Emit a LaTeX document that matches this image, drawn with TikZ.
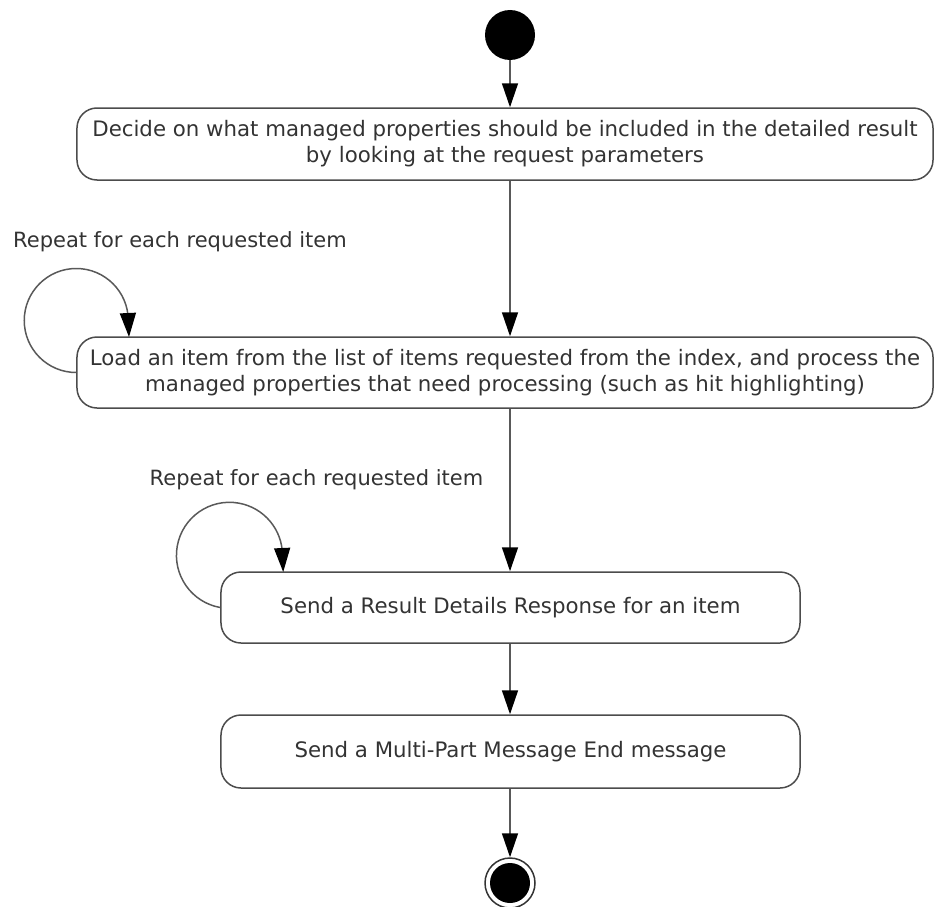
\documentclass[tikz,border=0pt]{standalone}
\usepackage{fontspec}
\setmainfont{DejaVu Sans}
\usetikzlibrary{arrows.meta}
\begin{document}
\begin{tikzpicture}[x=1bp,y=-1bp,
  actbox/.style={draw=black!70, line width=1.5bp, rounded corners=20bp, fill=white,
    text=black!80, align=center, inner sep=0pt,
    font=\fontsize{21.3bp}{26bp}\selectfont},
  lbl/.style={text=black!80, inner sep=0pt, font=\fontsize{21bp}{26bp}\selectfont},
  arr/.style={draw=black!65, line width=1.5bp,
    -{Triangle[length=24bp,width=16bp,color=black]}}]
\useasboundingbox (0,0) rectangle (935,907);

\node[circle, fill=black, minimum size=50bp, inner sep=0pt] (start) at (510,35) {};

\node[actbox, minimum width=856bp, minimum height=72bp] (b1) at (505,144)
  {Decide on what managed properties should be included in the detailed result\\by looking at the request parameters};
\node[actbox, minimum width=856bp, minimum height=71bp] (b2) at (505,372.5)
  {Load an item from the list of items requested from the index, and process the\\managed properties that need processing (such as hit highlighting)};
\node[actbox, minimum width=579bp, minimum height=71bp] (b3) at (510.5,607.5)
  {Send a Result Details Response for an item};
\node[actbox, minimum width=579bp, minimum height=73bp] (b4) at (510.5,751.5)
  {Send a Multi-Part Message End message};

\node[circle, draw=black!80, line width=1.5bp, fill=white, minimum size=50bp, inner sep=0pt] (fin) at (510,883) {};
\node[circle, fill=black, minimum size=40bp, inner sep=0pt] (fincore) at (fin) {};

\node[lbl] (l1txt) at (180,242) {Repeat for each requested item};
\node[lbl] (l2txt) at (316.5,480) {Repeat for each requested item};

\coordinate (l1end) at (129,337);
\coordinate (l2end) at (283.2,572);

\draw[arr] (start) -- (b1.north -| start);
\draw[arr] (b1.south -| start) -- (b2.north -| start);
\draw[arr] (b2.south -| start) -- (b3.north -| start);
\draw[arr] (b3.south -| start) -- (b4.north -| start);
\draw[arr] (b4.south -| start) -- (fin.north);

\draw[arr] (b2.west) arc[start angle=90, end angle=360, radius=52] -- (l1end);
\draw[arr] (b3.west) arc[start angle=100, end angle=360, radius=53] -- (l2end);
\end{tikzpicture}
\end{document}
